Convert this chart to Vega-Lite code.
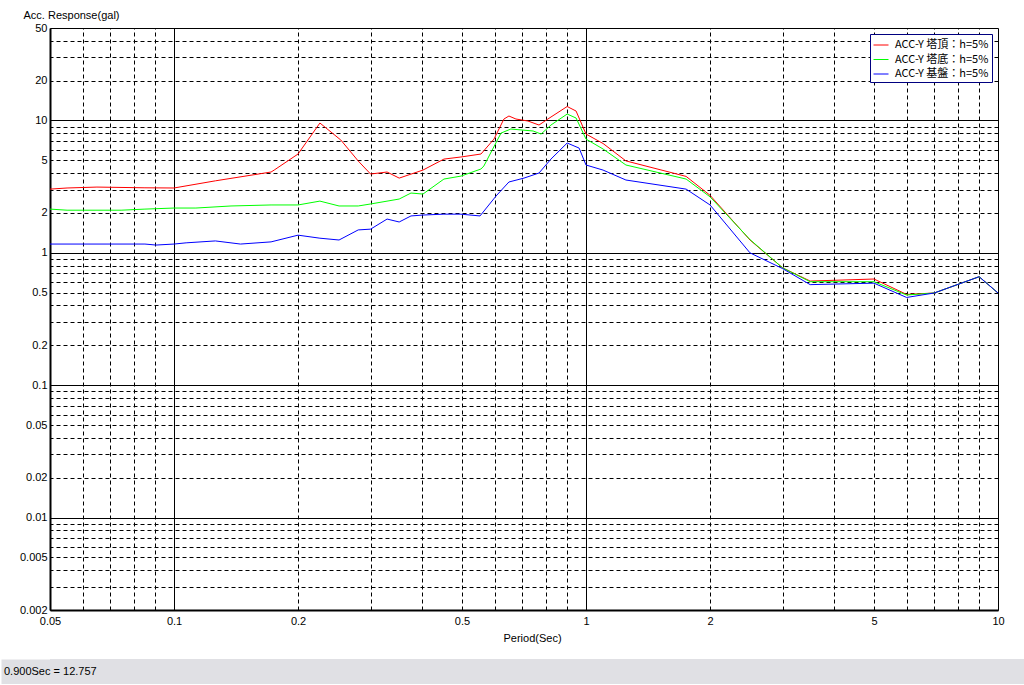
{
  "$schema": "https://vega.github.io/schema/vega-lite/v6.json",
  "background": "white",
  "padding": 0,
  "spacing": 15,
  "config": {
    "font": "Liberation Sans",
    "axis": {"labelFont": "Liberation Sans", "labelFontSize": 11, "labelColor": "black", "titleFont": "Liberation Sans", "titleFontSize": 11, "titleFontWeight": "normal", "titleColor": "black", "tickSize": 0}
  },
  "datasets": {
    "spec": [
      {"series": "ACC-Y 塔頂：h=5%", "period": 0.05, "acc": 3.03},
      {"series": "ACC-Y 塔頂：h=5%", "period": 0.055, "acc": 3.09},
      {"series": "ACC-Y 塔頂：h=5%", "period": 0.065, "acc": 3.14},
      {"series": "ACC-Y 塔頂：h=5%", "period": 0.085, "acc": 3.1},
      {"series": "ACC-Y 塔頂：h=5%", "period": 0.1, "acc": 3.09},
      {"series": "ACC-Y 塔頂：h=5%", "period": 0.126, "acc": 3.5},
      {"series": "ACC-Y 塔頂：h=5%", "period": 0.172, "acc": 4.08},
      {"series": "ACC-Y 塔頂：h=5%", "period": 0.175, "acc": 4.22},
      {"series": "ACC-Y 塔頂：h=5%", "period": 0.2, "acc": 5.58},
      {"series": "ACC-Y 塔頂：h=5%", "period": 0.226, "acc": 9.57},
      {"series": "ACC-Y 塔頂：h=5%", "period": 0.254, "acc": 7.12},
      {"series": "ACC-Y 塔頂：h=5%", "period": 0.28, "acc": 4.94},
      {"series": "ACC-Y 塔頂：h=5%", "period": 0.3, "acc": 3.94},
      {"series": "ACC-Y 塔頂：h=5%", "period": 0.329, "acc": 4.08},
      {"series": "ACC-Y 塔頂：h=5%", "period": 0.352, "acc": 3.67},
      {"series": "ACC-Y 塔頂：h=5%", "period": 0.402, "acc": 4.22},
      {"series": "ACC-Y 塔頂：h=5%", "period": 0.452, "acc": 5.11},
      {"series": "ACC-Y 塔頂：h=5%", "period": 0.497, "acc": 5.3},
      {"series": "ACC-Y 塔頂：h=5%", "period": 0.556, "acc": 5.58},
      {"series": "ACC-Y 塔頂：h=5%", "period": 0.598, "acc": 7.24},
      {"series": "ACC-Y 塔頂：h=5%", "period": 0.632, "acc": 10.26},
      {"series": "ACC-Y 塔頂：h=5%", "period": 0.65, "acc": 10.81},
      {"series": "ACC-Y 塔頂：h=5%", "period": 0.676, "acc": 10.26},
      {"series": "ACC-Y 塔頂：h=5%", "period": 0.723, "acc": 9.91},
      {"series": "ACC-Y 塔頂：h=5%", "period": 0.769, "acc": 9.24},
      {"series": "ACC-Y 塔頂：h=5%", "period": 0.808, "acc": 10.26},
      {"series": "ACC-Y 塔頂：h=5%", "period": 0.9, "acc": 12.757},
      {"series": "ACC-Y 塔頂：h=5%", "period": 0.946, "acc": 11.79},
      {"series": "ACC-Y 塔頂：h=5%", "period": 1.0, "acc": 7.9},
      {"series": "ACC-Y 塔頂：h=5%", "period": 1.1, "acc": 6.7},
      {"series": "ACC-Y 塔頂：h=5%", "period": 1.25, "acc": 4.95},
      {"series": "ACC-Y 塔頂：h=5%", "period": 1.75, "acc": 3.78},
      {"series": "ACC-Y 塔頂：h=5%", "period": 2.0, "acc": 2.72},
      {"series": "ACC-Y 塔頂：h=5%", "period": 2.5, "acc": 1.25},
      {"series": "ACC-Y 塔頂：h=5%", "period": 3.0, "acc": 0.77},
      {"series": "ACC-Y 塔頂：h=5%", "period": 3.5, "acc": 0.612},
      {"series": "ACC-Y 塔頂：h=5%", "period": 5.0, "acc": 0.634},
      {"series": "ACC-Y 塔頂：h=5%", "period": 6.0, "acc": 0.485},
      {"series": "ACC-Y 塔頂：h=5%", "period": 7.0, "acc": 0.497},
      {"series": "ACC-Y 塔頂：h=5%", "period": 9.0, "acc": 0.66},
      {"series": "ACC-Y 塔頂：h=5%", "period": 10.0, "acc": 0.497},
      {"series": "ACC-Y 塔底：h=5%", "period": 0.05, "acc": 2.14},
      {"series": "ACC-Y 塔底：h=5%", "period": 0.055, "acc": 2.1},
      {"series": "ACC-Y 塔底：h=5%", "period": 0.0744, "acc": 2.1},
      {"series": "ACC-Y 塔底：h=5%", "period": 0.085, "acc": 2.14},
      {"series": "ACC-Y 塔底：h=5%", "period": 0.1, "acc": 2.18},
      {"series": "ACC-Y 塔底：h=5%", "period": 0.113, "acc": 2.18},
      {"series": "ACC-Y 塔底：h=5%", "period": 0.1375, "acc": 2.26},
      {"series": "ACC-Y 塔底：h=5%", "period": 0.172, "acc": 2.3},
      {"series": "ACC-Y 塔底：h=5%", "period": 0.2, "acc": 2.3},
      {"series": "ACC-Y 塔底：h=5%", "period": 0.226, "acc": 2.46},
      {"series": "ACC-Y 塔底：h=5%", "period": 0.2515, "acc": 2.26},
      {"series": "ACC-Y 塔底：h=5%", "period": 0.28, "acc": 2.26},
      {"series": "ACC-Y 塔底：h=5%", "period": 0.3, "acc": 2.34},
      {"series": "ACC-Y 塔底：h=5%", "period": 0.352, "acc": 2.55},
      {"series": "ACC-Y 塔底：h=5%", "period": 0.376, "acc": 2.83},
      {"series": "ACC-Y 塔底：h=5%", "period": 0.402, "acc": 2.78},
      {"series": "ACC-Y 塔底：h=5%", "period": 0.452, "acc": 3.61},
      {"series": "ACC-Y 塔底：h=5%", "period": 0.497, "acc": 3.8},
      {"series": "ACC-Y 塔底：h=5%", "period": 0.556, "acc": 4.3},
      {"series": "ACC-Y 塔底：h=5%", "period": 0.565, "acc": 4.53},
      {"series": "ACC-Y 塔底：h=5%", "period": 0.622, "acc": 8.04},
      {"series": "ACC-Y 塔底：h=5%", "period": 0.657, "acc": 8.62},
      {"series": "ACC-Y 塔底：h=5%", "period": 0.744, "acc": 8.33},
      {"series": "ACC-Y 塔底：h=5%", "period": 0.778, "acc": 7.9},
      {"series": "ACC-Y 塔底：h=5%", "period": 0.822, "acc": 9.24},
      {"series": "ACC-Y 塔底：h=5%", "period": 0.9, "acc": 11.19},
      {"series": "ACC-Y 塔底：h=5%", "period": 0.946, "acc": 10.44},
      {"series": "ACC-Y 塔底：h=5%", "period": 1.0, "acc": 7.24},
      {"series": "ACC-Y 塔底：h=5%", "period": 1.1, "acc": 6.09},
      {"series": "ACC-Y 塔底：h=5%", "period": 1.25, "acc": 4.61},
      {"series": "ACC-Y 塔底：h=5%", "period": 1.75, "acc": 3.61},
      {"series": "ACC-Y 塔底：h=5%", "period": 2.0, "acc": 2.65},
      {"series": "ACC-Y 塔底：h=5%", "period": 2.5, "acc": 1.26},
      {"series": "ACC-Y 塔底：h=5%", "period": 3.0, "acc": 0.77},
      {"series": "ACC-Y 塔底：h=5%", "period": 3.5, "acc": 0.605},
      {"series": "ACC-Y 塔底：h=5%", "period": 5.0, "acc": 0.605},
      {"series": "ACC-Y 塔底：h=5%", "period": 6.0, "acc": 0.48},
      {"series": "ACC-Y 塔底：h=5%", "period": 7.0, "acc": 0.497},
      {"series": "ACC-Y 塔底：h=5%", "period": 9.0, "acc": 0.66},
      {"series": "ACC-Y 塔底：h=5%", "period": 10.0, "acc": 0.497},
      {"series": "ACC-Y 基盤：h=5%", "period": 0.05, "acc": 1.165},
      {"series": "ACC-Y 基盤：h=5%", "period": 0.085, "acc": 1.165},
      {"series": "ACC-Y 基盤：h=5%", "period": 0.0904, "acc": 1.145},
      {"series": "ACC-Y 基盤：h=5%", "period": 0.1, "acc": 1.165},
      {"series": "ACC-Y 基盤：h=5%", "period": 0.107, "acc": 1.19},
      {"series": "ACC-Y 基盤：h=5%", "period": 0.126, "acc": 1.23},
      {"series": "ACC-Y 基盤：h=5%", "period": 0.145, "acc": 1.165},
      {"series": "ACC-Y 基盤：h=5%", "period": 0.172, "acc": 1.21},
      {"series": "ACC-Y 基盤：h=5%", "period": 0.2, "acc": 1.36},
      {"series": "ACC-Y 基盤：h=5%", "period": 0.226, "acc": 1.29},
      {"series": "ACC-Y 基盤：h=5%", "period": 0.2515, "acc": 1.25},
      {"series": "ACC-Y 基盤：h=5%", "period": 0.28, "acc": 1.49},
      {"series": "ACC-Y 基盤：h=5%", "period": 0.3, "acc": 1.51},
      {"series": "ACC-Y 基盤：h=5%", "period": 0.329, "acc": 1.8},
      {"series": "ACC-Y 基盤：h=5%", "period": 0.352, "acc": 1.71},
      {"series": "ACC-Y 基盤：h=5%", "period": 0.376, "acc": 1.9},
      {"series": "ACC-Y 基盤：h=5%", "period": 0.402, "acc": 1.93},
      {"series": "ACC-Y 基盤：h=5%", "period": 0.452, "acc": 1.96},
      {"series": "ACC-Y 基盤：h=5%", "period": 0.497, "acc": 1.96},
      {"series": "ACC-Y 基盤：h=5%", "period": 0.553, "acc": 1.9},
      {"series": "ACC-Y 基盤：h=5%", "period": 0.605, "acc": 2.69},
      {"series": "ACC-Y 基盤：h=5%", "period": 0.65, "acc": 3.43},
      {"series": "ACC-Y 基盤：h=5%", "period": 0.707, "acc": 3.67},
      {"series": "ACC-Y 基盤：h=5%", "period": 0.769, "acc": 4.01},
      {"series": "ACC-Y 基盤：h=5%", "period": 0.822, "acc": 5.11},
      {"series": "ACC-Y 基盤：h=5%", "period": 0.9, "acc": 6.76},
      {"series": "ACC-Y 基盤：h=5%", "period": 0.962, "acc": 6.19},
      {"series": "ACC-Y 基盤：h=5%", "period": 1.0, "acc": 4.61},
      {"series": "ACC-Y 基盤：h=5%", "period": 1.1, "acc": 4.22},
      {"series": "ACC-Y 基盤：h=5%", "period": 1.25, "acc": 3.55},
      {"series": "ACC-Y 基盤：h=5%", "period": 1.75, "acc": 3.03},
      {"series": "ACC-Y 基盤：h=5%", "period": 2.0, "acc": 2.3},
      {"series": "ACC-Y 基盤：h=5%", "period": 2.5, "acc": 1.0},
      {"series": "ACC-Y 基盤：h=5%", "period": 3.0, "acc": 0.76},
      {"series": "ACC-Y 基盤：h=5%", "period": 3.5, "acc": 0.575},
      {"series": "ACC-Y 基盤：h=5%", "period": 5.0, "acc": 0.59},
      {"series": "ACC-Y 基盤：h=5%", "period": 6.0, "acc": 0.46},
      {"series": "ACC-Y 基盤：h=5%", "period": 7.0, "acc": 0.497},
      {"series": "ACC-Y 基盤：h=5%", "period": 9.0, "acc": 0.66},
      {"series": "ACC-Y 基盤：h=5%", "period": 10.0, "acc": 0.497}
    ],
    "status": [{"label": "0.900Sec = 12.757"}]
  },
  "vconcat": [
    {
      "width": 948,
      "height": 582,
      "view": {"stroke": "black", "strokeWidth": 1},
      "data": {"name": "spec"},
      "resolve": {"axis": {"x": "independent", "y": "independent"}},
      "layer": [
        {
          "mark": {"type": "line", "strokeWidth": 1, "clip": true},
          "encoding": {
            "x": {"field": "period", "type": "quantitative",
              "scale": {"type": "log", "domain": [0.05, 10], "nice": false},
              "axis": {"orient": "top", "values": [0.06, 0.07, 0.08, 0.09, 0.1, 0.2, 0.3, 0.4, 0.5, 0.6, 0.7, 0.8, 0.9, 1, 2, 3, 4, 5, 6, 7, 8, 9],
                "grid": true, "labels": false, "ticks": false, "domain": false, "title": null,
                "minExtent": 27, "maxExtent": 27,
                "gridColor": "black", "gridOpacity": 1, "gridWidth": 1,
                "gridDash": {"condition": {"test": "datum.value == 0.1 || datum.value == 1", "value": []}, "value": [4, 3]}}},
            "y": {"field": "acc", "type": "quantitative",
              "scale": {"type": "log", "domain": [0.002, 50], "nice": false},
              "axis": {"orient": "right", "values": [0.003, 0.004, 0.005, 0.006, 0.007, 0.008, 0.009, 0.01, 0.02, 0.03, 0.04, 0.05, 0.06, 0.07, 0.08, 0.09, 0.1, 0.2, 0.3, 0.4, 0.5, 0.6, 0.7, 0.8, 0.9, 1, 2, 3, 4, 5, 6, 7, 8, 9, 10, 20, 30, 40],
                "grid": true, "labels": false, "ticks": false, "domain": false, "title": null,
                "minExtent": 0, "maxExtent": 0,
                "gridColor": "black", "gridOpacity": 1, "gridWidth": 1,
                "gridDash": {"condition": {"test": "datum.value == 0.01 || datum.value == 0.1 || datum.value == 1 || datum.value == 10", "value": []}, "value": [4, 3]}}},
            "color": {"field": "series", "type": "nominal",
              "scale": {"domain": ["ACC-Y 塔頂：h=5%", "ACC-Y 塔底：h=5%", "ACC-Y 基盤：h=5%"], "range": ["#ff0000", "#00ff00", "#0000ff"]},
              "legend": {"title": null, "orient": "none", "legendX": 820, "legendY": 6,
                "symbolType": "stroke", "symbolSize": 225, "symbolStrokeWidth": 1,
                "labelFont": "Noto Sans CJK JP", "labelFontSize": 11, "labelColor": "black",
                "strokeColor": "#000080", "fillColor": "white", "padding": 3, "rowPadding": 1.5, "labelOffset": 6}}
          }
        },
        {
          "mark": {"type": "point", "opacity": 0},
          "encoding": {
            "x": {"field": "period", "type": "quantitative",
              "scale": {"type": "log", "domain": [0.05, 10], "nice": false},
              "axis": {"orient": "bottom", "values": [0.05, 0.1, 0.2, 0.5, 1, 2, 5, 10], "format": "~g",
                "grid": false, "ticks": false, "domain": true, "domainColor": "black", "domainWidth": 2,
                "labelPadding": 5, "labelFlush": false, "labelOverlap": false,
                "title": "Period(Sec)", "titleX": 482, "titlePadding": 4, "minExtent": 18, "maxExtent": 18}},
            "y": {"field": "acc", "type": "quantitative",
              "scale": {"type": "log", "domain": [0.002, 50], "nice": false},
              "axis": {"orient": "left", "values": [0.002, 0.005, 0.01, 0.02, 0.05, 0.1, 0.2, 0.5, 1, 2, 5, 10, 20, 50], "format": "~g",
                "grid": false, "ticks": false, "domain": true, "domainColor": "black", "domainWidth": 2,
                "labelPadding": 3, "labelFlush": false, "labelOverlap": false,
                "title": "Acc. Response(gal)", "titleAngle": 0, "titleAlign": "left", "titleBaseline": "middle",
                "titleX": -27, "titleY": -13, "minExtent": 49, "maxExtent": 49}}
          }
        }
      ]
    },
    {
      "width": 975,
      "height": 25,
      "view": {"fill": "#e0e0e4", "stroke": null},
      "data": {"name": "status"},
      "title": {"text": "0.900Sec = 12.757", "orient": "top", "anchor": "start", "frame": "group", "offset": -18, "dx": -46,
        "fontSize": 11, "fontWeight": "normal", "font": "Liberation Sans", "color": "black"},
      "layer": [
        {"mark": {"type": "rect", "color": "#e0e0e4"}, "encoding": {}},
        {
          "mark": {"type": "point", "opacity": 0},
          "encoding": {
            "y": {"field": "label", "type": "nominal",
              "axis": {"orient": "left", "title": null, "labels": false, "ticks": false, "grid": false,
                "domain": true, "domainColor": "#e0e0e4", "domainWidth": 49, "offset": 24.5,
                "minExtent": 0, "maxExtent": 0}}
          }
        }
      ]
    }
  ]
}
